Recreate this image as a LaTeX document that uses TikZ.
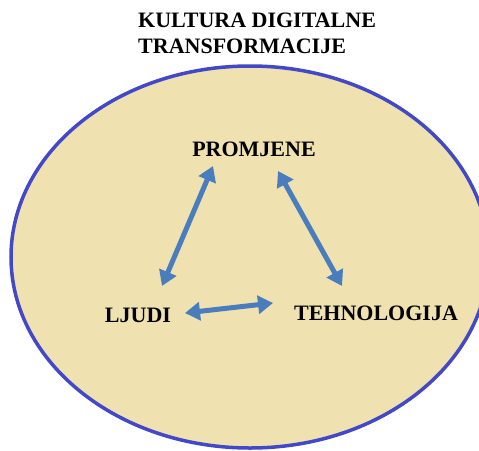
\documentclass[tikz,border=0pt]{standalone}
\usepackage{fontspec}
\setmainfont{Liberation Serif}
\usetikzlibrary{arrows.meta}
\definecolor{sand}{HTML}{EFE2B0}
\definecolor{rim}{HTML}{4248C8}
\definecolor{arrowblue}{HTML}{4A7DBE}
\begin{document}
\begin{tikzpicture}
  [x=1pt,y=-1pt,every node/.style={font=\fontsize{22}{26}\selectfont\bfseries,inner sep=0pt},
   link/.style={arrowblue,line width=5pt,{Triangle[length=15pt,width=18pt]}-{Triangle[length=15pt,width=18pt]}}]
  \useasboundingbox (0,0) rectangle (479,450);
  \clip (0,0) rectangle (479,450);
  \draw[fill=sand,draw=rim,line width=3.5pt] (250,257) ellipse [x radius=239,y radius=191];

  \node[anchor=north west,align=left] (title) at (138,12.5) {KULTURA DIGITALNE\\TRANSFORMACIJE};
  \node[anchor=base] (promjene) at (254,156) {PROMJENE};
  \node[anchor=base] (ljudi) at (138,322) {LJUDI};
  \node[anchor=base] (tehno) at (376,320) {TEHNOLOGIJA};

  \coordinate (a1) at (162,286);
  \coordinate (a2) at (213,166);
  \coordinate (b1) at (278,171);
  \coordinate (b2) at (342,286);
  \coordinate (c1) at (185,313);
  \coordinate (c2) at (273,303);

  \foreach \from/\to in {a1/a2,b1/b2,c1/c2}
    \draw[link] (\from) -- (\to);

\end{tikzpicture}
\end{document}
